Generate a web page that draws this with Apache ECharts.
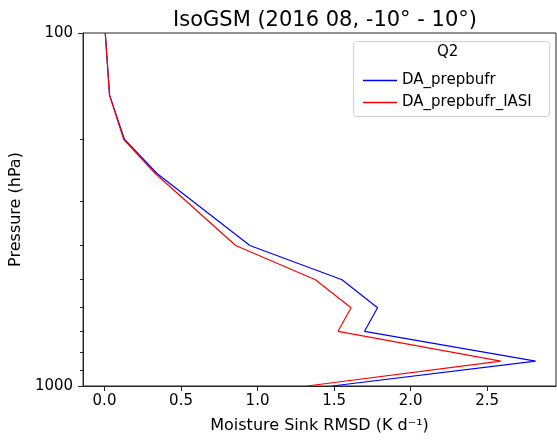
<!DOCTYPE html>
<html>
<head>
<meta charset="utf-8">
<script src="https://cdn.jsdelivr.net/npm/echarts@6/dist/echarts.min.js"></script>
<style>
html,body{margin:0;padding:0;background:#fff;}
#chart{width:557px;height:441px;}
</style>
</head>
<body>
<div id="chart"></div>
<script>
// Pressure levels (hPa)
var pressure = [100, 150, 200, 250, 400, 500, 600, 700, 850, 1000];
// Moisture sink RMSD (K d^-1)
var daPrepbufr     = [0.005, 0.033, 0.13, 0.343, 0.95, 1.552, 1.784, 1.699, 2.817, 1.487];
var daPrepbufrIASI = [0.005, 0.033, 0.125, 0.332, 0.857, 1.378, 1.611, 1.526, 2.589, 1.324];
var xTicks = [0, 0.5, 1.0, 1.5, 2.0, 2.5];
var yMajorTicks = [100, 1000];
var yMinorTicks = [200, 300, 400, 500, 600, 700, 800, 900];
var seriesNames = ['DA_prepbufr', 'DA_prepbufr_IASI'];
var titleText = 'IsoGSM (2016 08, -10\u00b0 - 10\u00b0)';
var xName = 'Moisture Sink RMSD (K d\u207b\u00b9)';
var yName = 'Pressure (hPa)';
var legendTitle = 'Q2';

function pairs(xs, ys) { return xs.map(function (v, i) { return [v, ys[i]]; }); }

var FONT = 'DejaVu Sans';
var AX = '#222';
function tickAxisY(values, len) {
  return {
    type: 'log', logBase: 10, min: 100, max: 1000, inverse: true, position: 'left', offset: len,
    axisLine: {show: false, onZero: false},
    axisTick: {show: true, inside: true, length: len, customValues: values, lineStyle: {color: AX, width: 1}},
    axisLabel: {show: false},
    splitLine: {show: false}
  };
}
var chart = echarts.init(document.getElementById('chart'), null, {renderer: 'canvas'});
chart.setOption({
  animation: false,
  backgroundColor: '#fff',
  textStyle: {fontFamily: FONT, color: '#000'},
  title: {
    text: titleText, left: 320, top: 5, textAlign: 'center',
    textStyle: {fontFamily: FONT, fontSize: 21, fontWeight: 'normal', color: '#000'}
  },
  grid: {left: 82, right: 1, top: 33, bottom: 55, show: true, borderColor: AX, borderWidth: 1, containLabel: false},
  legend: {
    orient: 'vertical', left: 358, top: 68, itemWidth: 34, itemHeight: 1.5, itemGap: 7, z: 10,
    textStyle: {fontFamily: FONT, fontSize: 15, color: '#000'},
    data: seriesNames.map(function (n) { return {name: n, icon: 'rect'}; })
  },
  graphic: [
    {type: 'rect', left: 353, top: 41, shape: {width: 196, height: 75, r: 3}, style: {fill: 'rgba(255,255,255,0.8)', stroke: '#d0d0d0', lineWidth: 1}, z: 5},
    {type: 'text', left: 437, top: 45, style: {text: legendTitle, font: '15px "DejaVu Sans"', fill: '#000'}, z: 6}
  ],
  xAxis: [
    {
      type: 'value', min: -0.14, max: 2.95,
      name: xName, nameLocation: 'middle', nameGap: 32,
      nameTextStyle: {fontFamily: FONT, fontSize: 16, color: '#000'},
      axisLine: {show: true, onZero: false, lineStyle: {color: AX, width: 1}},
      axisTick: {show: false},
      axisLabel: {show: true, customValues: xTicks, fontFamily: FONT, fontSize: 15, color: '#000', margin: 8,
        formatter: function (v) { return Number(v).toFixed(1); }},
      splitLine: {show: false}
    },
    {
      type: 'value', min: -0.14, max: 2.95, position: 'bottom', offset: 5,
      axisLine: {show: false, onZero: false},
      axisTick: {show: true, inside: true, length: 5, customValues: xTicks, lineStyle: {color: AX, width: 1}},
      axisLabel: {show: false},
      splitLine: {show: false}
    }
  ],
  yAxis: [
    {
      type: 'log', logBase: 10, min: 100, max: 1000, inverse: true,
      name: yName, nameLocation: 'middle', nameGap: 58, nameRotate: 90,
      nameTextStyle: {fontFamily: FONT, fontSize: 16, color: '#000'},
      axisLine: {show: true, onZero: false, lineStyle: {color: AX, width: 1}},
      axisTick: {show: false},
      axisLabel: {show: true, customValues: yMajorTicks, fontFamily: FONT, fontSize: 15, color: '#000', margin: 10,
        formatter: function (v) { return String(Math.round(v)); }},
      splitLine: {show: false}
    },
    tickAxisY(yMajorTicks, 5),
    tickAxisY(yMinorTicks, 3)
  ],
  series: [
    {name: seriesNames[0], type: 'line', data: pairs(daPrepbufr, pressure), symbol: 'none', color: '#0000ff',
      lineStyle: {color: '#0000ff', width: 1.2}, z: 2},
    {name: seriesNames[1], type: 'line', data: pairs(daPrepbufrIASI, pressure), symbol: 'none', color: '#ff0000',
      lineStyle: {color: '#ff0000', width: 1.2}, z: 3}
  ]
});
</script>
</body>
</html>
